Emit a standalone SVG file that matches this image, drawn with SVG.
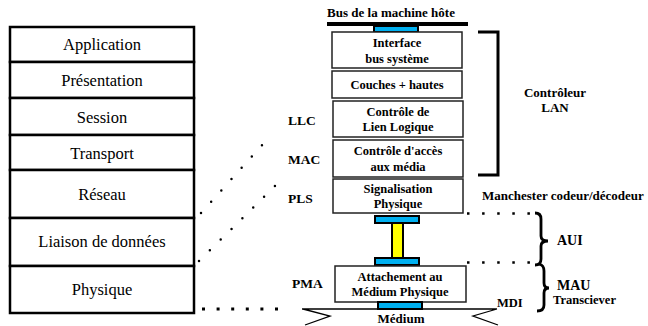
<svg xmlns="http://www.w3.org/2000/svg" width="648" height="326" viewBox="0 0 648 326" font-family="Liberation Serif, Times New Roman, DejaVu Serif, serif">
<style>
.osi{fill:#fff;stroke:#000;stroke-width:2.5}
.osit{font-size:16.5px;text-anchor:middle;fill:#000}
.box{fill:#fff;stroke:#222;stroke-width:1.5}
.bt{font-size:12.5px;font-weight:bold;text-anchor:middle;fill:#000}
.lbl{font-size:13.5px;font-weight:bold;fill:#000}
.conn{fill:#00b0f0;stroke:#000;stroke-width:2}
.dot{fill:none;stroke:#000;stroke-width:2.5;stroke-linecap:round}
.sq{fill:none;stroke:#000;stroke-width:3}
.thin{fill:none;stroke:#000;stroke-width:1.3}
</style>
<g id="osi-stack">
<g id="application"><rect class="osi" x="10" y="27" width="184" height="35"/><text class="osit" x="102" y="50">Application</text></g>
<g id="presentation"><rect class="osi" x="10" y="62" width="184" height="36"/><text class="osit" x="102" y="86">Présentation</text></g>
<g id="session"><rect class="osi" x="10" y="98" width="184" height="37"/><text class="osit" x="102" y="123">Session</text></g>
<g id="transport"><rect class="osi" x="10" y="135" width="184" height="35"/><text class="osit" x="102" y="159">Transport</text></g>
<g id="reseau"><rect class="osi" x="10" y="170" width="184" height="48"/><text class="osit" x="102" y="200">Réseau</text></g>
<g id="liaison"><rect class="osi" x="10" y="218" width="184" height="48"/><text class="osit" x="102" y="247">Liaison de données</text></g>
<g id="physique"><rect class="osi" x="10" y="266" width="184" height="47"/><text class="osit" x="102" y="295">Physique</text></g>
</g>
<g id="bus">
<rect x="327" y="22" width="141" height="4" fill="#000"/>
<text class="bt" x="391" y="17" style="font-size:13px">Bus de la machine hôte</text>
<rect class="conn" x="374" y="26" width="44" height="6"/>
</g>
<g id="interface"><rect class="box" x="332" y="32" width="130" height="36"/><text class="bt" x="397" y="47">Interface</text><text class="bt" x="397" y="63">bus système</text></g>
<g id="couches"><rect class="box" x="332" y="71" width="130" height="27"/><text class="bt" x="397" y="89">Couches + hautes</text></g>
<g id="llc"><rect class="box" x="333" y="101" width="130" height="36"/><text class="bt" x="398" y="116">Contrôle de</text><text class="bt" x="398" y="131">Lien Logique</text><text class="lbl" x="288" y="125">LLC</text></g>
<g id="mac"><rect class="box" x="333" y="140" width="130" height="37"/><text class="bt" x="398" y="155">Contrôle d'accès</text><text class="bt" x="398" y="171">aux média</text><text class="lbl" x="288" y="164">MAC</text></g>
<g id="pls"><rect class="box" x="333" y="179" width="130" height="34"/><text class="bt" x="398" y="193">Signalisation</text><text class="bt" x="398" y="208">Physique</text><text class="lbl" x="288" y="203">PLS</text></g>
<g id="aui-cable">
<rect class="conn" x="375" y="216" width="44" height="7"/>
<rect x="392" y="223" width="11" height="35" fill="#ffff00" stroke="#000" stroke-width="2"/>
<rect class="conn" x="375" y="258" width="44" height="7"/>
</g>
<g id="pma"><rect class="box" x="335" y="266" width="131" height="36"/><text class="bt" x="400" y="281">Attachement au</text><text class="bt" x="400" y="296">Médium Physique</text><text class="lbl" x="292" y="288">PMA</text></g>
<g id="medium">
<rect class="conn" x="378" y="302" width="44" height="7"/>
<path class="thin" d="M302,309 L497,309 M303,309 L330,316 L305,325 M497,309 L473,316 L498,325"/>
<text class="bt" x="401" y="323" style="font-size:13px">Médium</text>
<text class="lbl" x="497" y="307" style="font-size:12.5px">MDI</text>
</g>
<g id="controleur">
<path d="M478,32 L498,32 L498,175 L478,175" fill="none" stroke="#000" stroke-width="3"/>
<text class="bt" x="555" y="97" style="font-size:13px">Contrôleur</text>
<text class="bt" x="555" y="112" style="font-size:13px">LAN</text>
</g>
<g id="manchester"><text class="lbl" x="482" y="200" style="font-size:13px">Manchester codeur/décodeur</text></g>
<g id="aui">
<path d="M535,213 Q541,213 541,219 L541,236 Q541,241 548,241 Q541,241 541,246 L541,259 Q541,265 535,265" fill="none" stroke="#000" stroke-width="2.8"/>
<text class="lbl" x="557" y="245" style="font-size:14px">AUI</text>
</g>
<g id="mau">
<path d="M539,264 Q544,265 544,271 L544,283 Q544,288 549,288 Q544,288 544,293 L544,305 Q544,311 537,311" fill="none" stroke="#000" stroke-width="2.8"/>
<text class="lbl" x="557" y="290" style="font-size:14px">MAU</text>
<text class="lbl" x="553" y="304" style="font-size:12.5px">Transciever</text>
</g>
<g id="connectors">
<path class="dot" d="M201,213 L272,134" stroke-dasharray="0 15.2"/>
<path class="dot" d="M199,261 L275,186" stroke-dasharray="0 15.24"/>
<line class="sq" x1="202" y1="309" x2="278" y2="309" stroke-dasharray="3 11.6"/>
<line x1="467" y1="213.5" x2="530" y2="213.5" stroke="#000" stroke-width="2.5" stroke-dasharray="2.5 12.6"/>
<line x1="467" y1="262.5" x2="530" y2="262.5" stroke="#000" stroke-width="2.5" stroke-dasharray="2.5 12.6"/>
</g>
</svg>
